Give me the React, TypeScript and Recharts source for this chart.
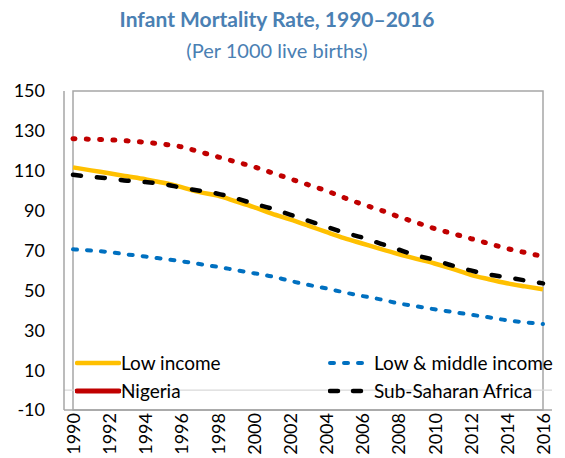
import React from "react";
import { LineChart, Line, XAxis, YAxis, ReferenceLine, ReferenceArea, Legend } from "recharts";

const years = ["1990","1991","1992","1993","1994","1995","1996","1997","1998","1999","2000","2001","2002","2003","2004","2005","2006","2007","2008","2009","2010","2011","2012","2013","2014","2015","2016"];
const lowIncome = [111.7,110.2,108.7,107.2,105.7,104,101.8,99.3,97.5,94.7,91.8,88.5,85.6,82.5,79.3,76.2,73.5,70.8,68.2,65.8,63.5,60.8,57.8,55.6,53.6,52.0,50.5];
const nigeria = [126.1,125.8,125.5,125,124.3,123.3,122,119.5,117,114.5,112,109,106,103,100,96.5,93.2,90.3,87,84,81,78.5,76,73.5,71,69,67];
const lowMiddle = [70.6,70,69.2,68,67,65.8,64.6,63.2,61.8,60.2,58.6,57,54.8,52.8,51,49,47.2,45.5,43.5,42,40.5,39.2,37.8,36.5,35,34,33.1];
const ssa = [108,107,106.2,105,104.3,103.3,101.5,100,98.5,96.2,93.5,91,88,85,82,79,76.5,73.5,70.5,67.5,65.3,62.4,60,58,56.5,55,53.5];
const yTicks = [-10,10,30,50,70,90,110,130,150];

const data = years.map((y, i) => ({
  year: y,
  low: lowIncome[i],
  nga: nigeria[i],
  lmi: lowMiddle[i],
  ssa: ssa[i],
}));

const FONT = "Lato, 'Open Sans', sans-serif";

const XTick = (props: any) => {
  const { x, y, payload } = props;
  return (
    <text
      x={x}
      y={y + 3}
      transform={`rotate(-90, ${x}, ${y + 3})`}
      textAnchor="end"
      dominantBaseline="central"
      fontSize={18}
      fontFamily={FONT}
      fill="#000"
    >
      {payload.value}
    </text>
  );
};

const LegendContent = () => {
  const item = (left: number, top: number, color: string, width: number, dash: string | undefined, label: string) => (
    <div style={{ position: "absolute", left, top, height: 24, display: "flex", alignItems: "center" }}>
      <svg width={46} height={12} style={{ display: "block" }}>
        <line x1={2} y1={6} x2={44} y2={6} stroke={color} strokeWidth={width} strokeDasharray={dash} strokeLinecap="round" />
      </svg>
      <span style={{ fontFamily: FONT, fontSize: 19, color: "#000", marginLeft: 0, whiteSpace: "nowrap", lineHeight: "24px" }}>{label}</span>
    </div>
  );
  return (
    <div style={{ position: "relative", width: 565, height: 458, pointerEvents: "none" }}>
      {item(75, 351, "#FFC000", 4.5, undefined, "Low income")}
      {item(75, 379, "#C00000", 5, undefined, "Nigeria")}
      {item(328, 351, "#0070C0", 4, "4 10", "Low & middle income")}
      {item(328, 379, "#000000", 4.5, "8 15", "Sub-Saharan Africa")}
    </div>
  );
};

export default function App() {
  return (
    <div style={{ position: "absolute", left: 0, top: 0, width: 565, height: 458, background: "#fff" }}>
      <div style={{ position: "absolute", left: 0, top: 6, width: 554, textAlign: "center", fontFamily: FONT, fontWeight: 700, fontSize: 21, color: "#4A80B3" }}>
        Infant Mortality Rate, 1990–2016
      </div>
      <div style={{ position: "absolute", left: 0, top: 38, width: 554, textAlign: "center", fontFamily: FONT, fontSize: 20, color: "#4A80B3" }}>
        (Per 1000 live births)
      </div>
      <div style={{ position: "absolute", left: 0, top: 0 }}>
        <LineChart width={565} height={458} data={data} margin={{ top: 91, right: 13, left: 0, bottom: 0 }}>
          <ReferenceArea y1={-10} y2={150} fill="none" stroke="#A6A6A6" strokeWidth={1.5} ifOverflow="visible" />
          <ReferenceLine y={0} stroke="#D9D9D9" strokeWidth={1.2} />
          <XAxis
            dataKey="year"
            interval={1}
            padding={{ left: 9, right: 9 }}
            height={48}
            tickLine={false}
            tickSize={0}
            tickMargin={0}
            axisLine={{ stroke: "#A6A6A6", strokeWidth: 1.5 }}
            tick={<XTick />}
          />
          <YAxis
            domain={[-10, 150]}
            ticks={yTicks}
            width={64}
            tickLine={false}
            tickSize={0}
            tickMargin={19}
            axisLine={{ stroke: "#A6A6A6", strokeWidth: 1.5 }}
            tick={{ fontSize: 18, fill: "#000", fontFamily: FONT }}
            interval={0}
          />
          <Line type="monotone" dataKey="nga" stroke="#C00000" strokeWidth={5} strokeDasharray="2 11.3" strokeLinecap="round" dot={false} isAnimationActive={false} />
          <Line type="monotone" dataKey="lmi" stroke="#0070C0" strokeWidth={4} strokeDasharray="4 10" strokeLinecap="round" dot={false} isAnimationActive={false} />
          <Line type="monotone" dataKey="low" stroke="#FFC000" strokeWidth={4.5} dot={false} isAnimationActive={false} />
          <Line type="monotone" dataKey="ssa" stroke="#000000" strokeWidth={4.5} strokeDasharray="8 16" strokeLinecap="round" dot={false} isAnimationActive={false} />
          <Legend
            layout="horizontal"
            verticalAlign="middle"
            align="center"
            wrapperStyle={{ left: 0, top: 0, width: 565, height: 458, margin: 0 }}
            content={<LegendContent />}
          />
        </LineChart>
      </div>
    </div>
  );
}
